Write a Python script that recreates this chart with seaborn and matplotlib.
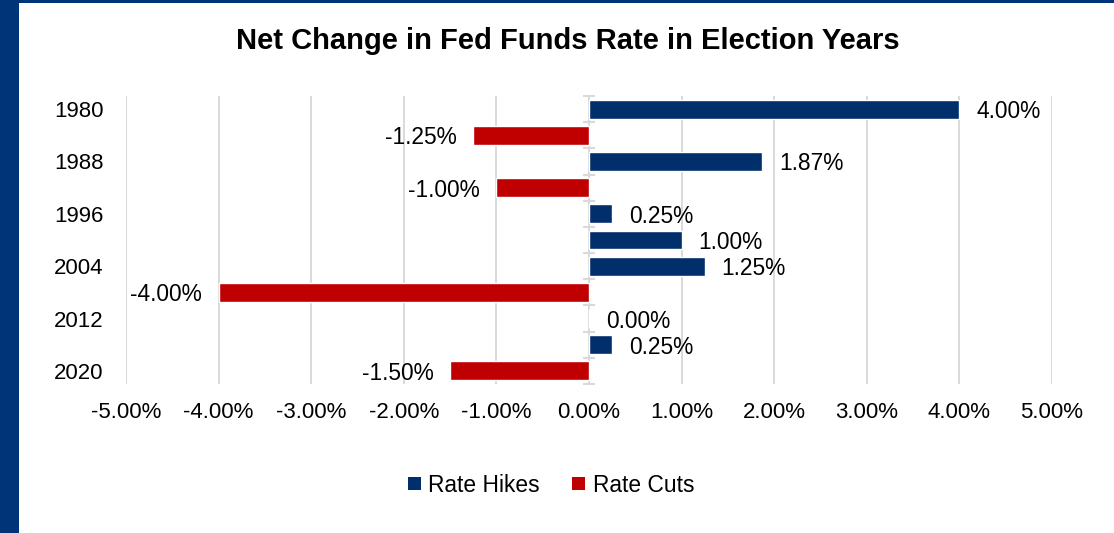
import numpy as np
import pandas as pd
import matplotlib
matplotlib.use("Agg")
import matplotlib.pyplot as plt
from matplotlib.patches import Patch, Rectangle
import seaborn as sns

# ---- data ----
years = ["1980", "1984", "1988", "1992", "1996", "2000", "2004", "2008", "2012", "2016", "2020"]
changes = [4.00, -1.25, 1.87, -1.00, 0.25, 1.00, 1.25, -4.00, 0.00, 0.25, -1.50]
series = ["Rate Hikes", "Rate Cuts", "Rate Hikes", "Rate Cuts", "Rate Hikes", "Rate Hikes",
          "Rate Hikes", "Rate Cuts", "Rate Hikes", "Rate Hikes", "Rate Cuts"]
series_names = ["Rate Hikes", "Rate Cuts"]
x_ticks = [-5, -4, -3, -2, -1, 0, 1, 2, 3, 4, 5]
title = "Net Change in Fed Funds Rate in Election Years"

NAVY = "#002F6C"
RED = "#C00000"
STRIP = "#003478"
GRID = "#D9D9D9"

df = pd.DataFrame({"year": years, "change": changes, "series": series})

sns.set_style("white")
plt.rcParams["font.family"] = ["Liberation Sans", "DejaVu Sans"]
plt.rcParams["text.color"] = "black"
plt.rcParams["xtick.color"] = "black"
plt.rcParams["ytick.color"] = "black"

fig = plt.figure(figsize=(11.14, 5.33), dpi=100)
ax = fig.add_axes([126 / 1114, 1 - 384 / 533, (1052 - 126) / 1114, (384 - 96) / 533])

palette = {"Rate Hikes": NAVY, "Rate Cuts": RED}
sns.barplot(data=df, y="year", x="change", hue="series", order=years,
            hue_order=series_names, palette=palette, dodge=False, width=0.725,
            orient="h", ax=ax, saturation=1, legend=False)

for cont in ax.containers:
    anns = ax.bar_label(cont, fmt="%.2f%%", padding=12, fontsize=16.4, color="black")
    for a in anns:
        a.xyann = (a.xyann[0], -1.8)

ax.set_xlim(x_ticks[0], x_ticks[-1])
ax.set_ylim(len(years) - 0.5, -0.5)
ax.set_xticks(x_ticks)
ax.set_xticklabels([f"{v:.2f}%" for v in x_ticks], fontsize=16, color="black")
ax.set_yticks(range(len(years)))
ax.set_yticklabels([y if i % 2 == 0 else "" for i, y in enumerate(years)], fontsize=16,
                   color="black")
ax.tick_params(axis="both", length=0)
ax.tick_params(axis="y", pad=16)
ax.tick_params(axis="x", pad=13)
ax.set_xlabel("")
ax.set_ylabel("")
for s in ax.spines.values():
    s.set_visible(False)
ax.set_axisbelow(True)
ax.grid(axis="x", color=GRID, linewidth=1.4)
ax.grid(axis="y", visible=False)

# category axis at zero with boundary tick marks
sec = ax.secondary_yaxis(0.5)
sec.set_yticks(np.arange(-0.5, len(years), 1.0))
sec.set_yticklabels([])
sec.tick_params(direction="inout", length=9, width=1.5, color=GRID)
sec.spines["left"].set_color(GRID)
sec.spines["left"].set_linewidth(1.5)
for k in ["right", "top", "bottom"]:
    if k in sec.spines:
        sec.spines[k].set_visible(False)

# title
fig.text(567.5 / 1114, 1 - 49.3 / 533, title, ha="center", va="baseline",
         fontsize=21, fontweight="bold", color="black")

# legend
handles = [Patch(facecolor=palette[n], edgecolor="none", label=n) for n in series_names]
fig.legend(handles=handles, loc="center", bbox_to_anchor=(551 / 1114, 1 - 485 / 533),
           ncol=2, frameon=False, fontsize=16.4, handlelength=0.55, handleheight=0.55,
           handletextpad=0.35, columnspacing=1.4)

# frame decoration: left strip and top line
fig.patches.append(Rectangle((0, 0), 19 / 1114, 1, transform=fig.transFigure,
                             facecolor=STRIP, edgecolor="none", zorder=10))
fig.patches.append(Rectangle((0, 1 - 3 / 533), 1, 3 / 533, transform=fig.transFigure,
                             facecolor=STRIP, edgecolor="none", zorder=10))

fig.savefig("out.png", dpi=100)
